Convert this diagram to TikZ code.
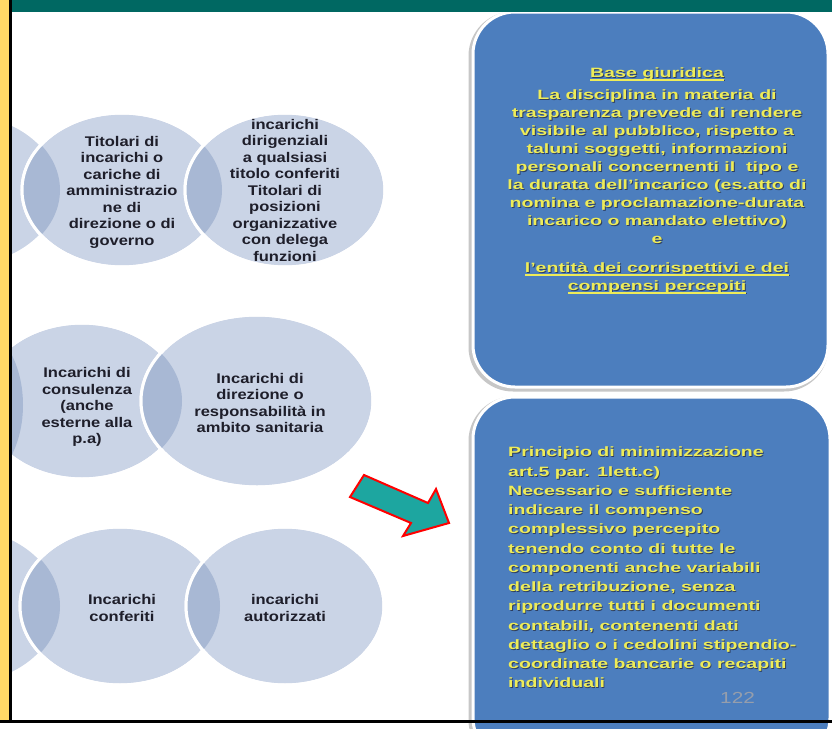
\documentclass[tikz,border=0pt]{standalone}
\usepackage{fontspec}
\setmainfont{Liberation Sans}
\newfontfamily\circfont[FakeStretch=1.18]{Liberation Sans}
\newfontfamily\boxfont[FakeStretch=1.45]{Liberation Sans}
\newfontfamily\numfont[FakeStretch=1.3]{Liberation Sans}
\definecolor{circlight}{RGB}{202,212,230}
\definecolor{circdark}{RGB}{168,184,212}
\definecolor{ctextcol}{RGB}{30,30,42}
\definecolor{boxblue}{RGB}{76,126,190}
\definecolor{boxtext}{RGB}{238,236,88}
\definecolor{boxshade}{RGB}{45,62,95}
\definecolor{arrowteal}{RGB}{29,166,160}
\definecolor{headteal}{RGB}{0,104,98}
\definecolor{stripyellow}{RGB}{255,217,102}
\definecolor{numcol}{RGB}{150,158,172}
\newcommand\ulline[1]{\setbox0=\hbox{#1}\rlap{\raisebox{-2.6pt}{\rule{\wd0}{1.1pt}}}\box0}
\newcommand\basetxt{\ulline{Base giuridica}\\[4pt]
  La disciplina in materia di\\
  trasparenza prevede di rendere\\
  visibile al pubblico, rispetto a\\
  taluni soggetti, informazioni\\
  personali concernenti il\ \ tipo e\\
  la durata dell’incarico (es.atto di\\
  nomina e proclamazione-durata\\
  incarico o mandato elettivo)\\
  e\\[11pt]
  \ulline{l’entità dei corrispettivi e dei}\\
  \ulline{compensi percepiti}}
\newcommand\mintxt{Principio di minimizzazione\\
  art.5 par. 1lett.c)\\
  Necessario e sufficiente\\
  indicare il compenso\\
  complessivo percepito\\
  tenendo conto di tutte le\\
  componenti anche variabili\\
  della retribuzione, senza\\
  riprodurre tutti i documenti\\
  contabili, contenenti dati\\
  dettaglio o i cedolini stipendio-\\
  coordinate bancarie o recapiti\\
  individuali}
\begin{document}
\begin{tikzpicture}[x=1pt,y=-1pt,
  circ/.style={fill=circlight, draw=white, line width=3pt},
  lens/.style={fill=circdark},
  rim/.style={draw=white, line width=3pt},
  ctext/.style={align=center, text=ctextcol, inner sep=0pt,
    font=\circfont\bfseries\fontsize{14}{16.5}\selectfont},
  bluebox/.style={fill=boxblue, draw=white, line width=3pt, rounded corners=42pt},
  boxshadow/.style={draw=black!22, line width=5pt, rounded corners=42pt},
  btext/.style={text=boxtext, inner sep=0pt,
    font=\boxfont\bfseries\fontsize{13.5}{18}\selectfont},
  bshade/.style={btext, text=boxshade},
  mintextstyle/.style={align=left, anchor=north west,
    font=\boxfont\bfseries\fontsize{13.5}{19.25}\selectfont},
  arrowshape/.style={fill=arrowteal, draw=red, line width=2pt, line join=miter},
]
\useasboundingbox (0,0) rectangle (832,728);
\fill[white] (0,0) rectangle (832,728);
\begin{scope}
\clip (0,0) rectangle (832,728);

% ---- row 1 ----
\path[circ] (-40,190) ellipse [x radius=100pt, y radius=77pt];
\path[circ] (122,190) ellipse [x radius=100pt, y radius=77pt];
\begin{scope}
  \clip (-40,190) ellipse [x radius=100pt, y radius=77pt];
  \fill[lens] (122,190) ellipse [x radius=100pt, y radius=77pt];
\end{scope}
\path[rim] (122,190) ellipse [x radius=100pt, y radius=77pt];
\path[circ] (285,190) ellipse [x radius=100pt, y radius=77pt];
\begin{scope}
  \clip (122,190) ellipse [x radius=100pt, y radius=77pt];
  \fill[lens] (285,190) ellipse [x radius=100pt, y radius=77pt];
\end{scope}
\path[rim] (285,190) ellipse [x radius=100pt, y radius=77pt];

% ---- row 2 ----
\path[circ] (-37,405) ellipse [x radius=60pt, y radius=86pt];
\path[circ] (82,401) ellipse [x radius=100pt, y radius=78pt];
\begin{scope}
  \clip (-37,405) ellipse [x radius=60pt, y radius=86pt];
  \fill[lens] (82,401) ellipse [x radius=100pt, y radius=78pt];
\end{scope}
\path[rim] (82,401) ellipse [x radius=100pt, y radius=78pt];
\path[circ] (257,401) ellipse [x radius=116pt, y radius=86pt];
\begin{scope}
  \clip (82,401) ellipse [x radius=100pt, y radius=78pt];
  \fill[lens] (257,401) ellipse [x radius=116pt, y radius=86pt];
\end{scope}
\path[rim] (257,401) ellipse [x radius=116pt, y radius=86pt];

% ---- row 3 ----
\path[circ] (-40,606) ellipse [x radius=100pt, y radius=79pt];
\path[circ] (120,606) ellipse [x radius=100pt, y radius=79pt];
\begin{scope}
  \clip (-40,606) ellipse [x radius=100pt, y radius=79pt];
  \fill[lens] (120,606) ellipse [x radius=100pt, y radius=79pt];
\end{scope}
\path[rim] (120,606) ellipse [x radius=100pt, y radius=79pt];
\path[circ] (285,606) ellipse [x radius=99pt, y radius=79pt];
\begin{scope}
  \clip (120,606) ellipse [x radius=100pt, y radius=79pt];
  \fill[lens] (285,606) ellipse [x radius=99pt, y radius=79pt];
\end{scope}
\path[rim] (285,606) ellipse [x radius=99pt, y radius=79pt];

% ---- circle texts ----
\node[ctext] (titolari) at (122,192) {Titolari di\\incarichi o\\cariche di\\amministrazio\\ne di\\direzione o di\\governo};
\node[ctext] (dirigenziali) at (285,190) {incarichi\\dirigenziali\\a qualsiasi\\titolo conferiti\\Titolari di\\posizioni\\organizzative\\con delega\\funzioni};
\node[ctext] (consulenza) at (87,407) {Incarichi di\\consulenza\\(anche\\esterne alla\\p.a)};
\node[ctext] (sanitaria) at (260,403) {Incarichi di\\direzione o\\responsabilità in\\ambito sanitaria};
\node[ctext] (conferiti) at (122,608) {Incarichi\\conferiti};
\node[ctext] (autorizzati) at (285,608) {incarichi\\autorizzati};

% ---- boxes ----
\path[boxshadow] (471,14) rectangle (826,389);
\path[bluebox] (473,12) rectangle (828,387);
\path[boxshadow] (471,399) rectangle (828,762);
\path[bluebox] (473,397) rectangle (830,760);

\node[bshade, align=center, anchor=north] (basegiuridicashade) at (658,68.8) {\basetxt};
\node[btext, align=center, anchor=north] (basegiuridica) at (657,68) {\basetxt};

\node[bshade, mintextstyle] (minimizzazioneshade) at (508.8,447.8) {\mintxt};
\node[btext, mintextstyle] (minimizzazione) at (508,447) {\mintxt};

\node[text=numcol, inner sep=0pt, anchor=base west,
  font=\numfont\fontsize{16}{16}\selectfont] (pagenum) at (720,703) {122};

% ---- arrow ----
\path[arrowshape] (364,475) -- (428,503) -- (436,489) -- (449,523) -- (403,536) -- (411,523) -- (350,497) -- cycle;

% ---- frame ----
\fill[headteal] (11,0) rectangle (832,12);
\fill[stripyellow] (0,0) rectangle (9,721);
\draw[black, line width=3pt] (10,0) -- (10,721);
\draw[black, line width=3pt] (0,721) -- (832,721);
\end{scope}
\end{tikzpicture}
\end{document}
